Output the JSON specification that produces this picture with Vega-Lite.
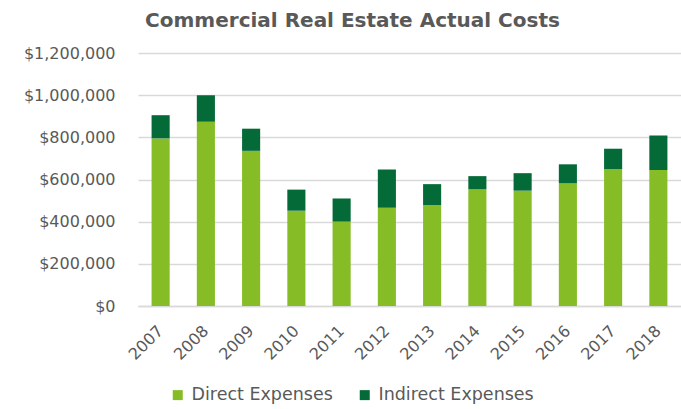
{
  "$schema": "https://vega.github.io/schema/vega-lite/v6.json",
  "autosize": {"type": "none"},
  "width": 543,
  "height": 253,
  "padding": {"left": 138, "top": 53, "right": 0, "bottom": 103},
  "background": "white",
  "title": {
    "text": "Commercial Real Estate Actual Costs",
    "font": "DejaVu Sans",
    "fontSize": 20,
    "fontWeight": "bold",
    "color": "#595959",
    "anchor": "middle",
    "baseline": "alphabetic",
    "dx": -57,
    "dy": 22,
    "offset": 20
  },
  "data": {
    "values": [
      {"year": "2007", "type": "Direct Expenses", "value": 795000},
      {"year": "2007", "type": "Indirect Expenses", "value": 110000},
      {"year": "2008", "type": "Direct Expenses", "value": 874000},
      {"year": "2008", "type": "Indirect Expenses", "value": 126000},
      {"year": "2009", "type": "Direct Expenses", "value": 736000},
      {"year": "2009", "type": "Indirect Expenses", "value": 105000},
      {"year": "2010", "type": "Direct Expenses", "value": 452000},
      {"year": "2010", "type": "Indirect Expenses", "value": 100000},
      {"year": "2011", "type": "Direct Expenses", "value": 400000},
      {"year": "2011", "type": "Indirect Expenses", "value": 110000},
      {"year": "2012", "type": "Direct Expenses", "value": 466000},
      {"year": "2012", "type": "Indirect Expenses", "value": 182000},
      {"year": "2013", "type": "Direct Expenses", "value": 479000},
      {"year": "2013", "type": "Indirect Expenses", "value": 99000},
      {"year": "2014", "type": "Direct Expenses", "value": 553000},
      {"year": "2014", "type": "Indirect Expenses", "value": 63000},
      {"year": "2015", "type": "Direct Expenses", "value": 547000},
      {"year": "2015", "type": "Indirect Expenses", "value": 83000},
      {"year": "2016", "type": "Direct Expenses", "value": 583000},
      {"year": "2016", "type": "Indirect Expenses", "value": 89000},
      {"year": "2017", "type": "Direct Expenses", "value": 648000},
      {"year": "2017", "type": "Indirect Expenses", "value": 98000},
      {"year": "2018", "type": "Direct Expenses", "value": 645000},
      {"year": "2018", "type": "Indirect Expenses", "value": 164000}
    ]
  },
  "mark": {"type": "bar"},
  "encoding": {
    "x": {
      "field": "year",
      "type": "ordinal",
      "title": null,
      "scale": {"paddingInner": 0.6, "paddingOuter": 0.3},
      "axis": {
        "labelAngle": -45,
        "labelAlign": "right",
        "labelBaseline": "middle",
        "labelFont": "DejaVu Sans",
        "labelFontSize": 16,
        "labelColor": "#595959",
        "labelPadding": 22,
        "ticks": false,
        "domain": true,
        "domainColor": "#d9d9d9",
        "domainWidth": 1.5,
        "grid": false
      }
    },
    "y": {
      "field": "value",
      "type": "quantitative",
      "title": null,
      "stack": "zero",
      "scale": {"domain": [0, 1200000]},
      "axis": {
        "values": [0, 200000, 400000, 600000, 800000, 1000000, 1200000],
        "format": "$,.0f",
        "labelFont": "DejaVu Sans",
        "labelFontSize": 16,
        "labelColor": "#595959",
        "labelPadding": 23,
        "ticks": false,
        "domain": false,
        "grid": true,
        "gridColor": "#d9d9d9",
        "gridWidth": 1.5
      }
    },
    "color": {
      "field": "type",
      "type": "nominal",
      "title": null,
      "scale": {
        "domain": ["Direct Expenses", "Indirect Expenses"],
        "range": ["#86BC25", "#046A38"]
      },
      "legend": {
        "orient": "none",
        "direction": "horizontal",
        "legendX": 31,
        "legendY": 333,
        "symbolType": "square",
        "symbolSize": 100,
        "symbolStrokeWidth": 0,
        "labelFont": "DejaVu Sans",
        "labelFontSize": 17.5,
        "labelColor": "#595959",
        "labelOffset": 5,
        "columnPadding": 23
      }
    },
    "order": {"field": "type", "sort": "ascending"}
  },
  "config": {
    "view": {"stroke": null}
  }
}
